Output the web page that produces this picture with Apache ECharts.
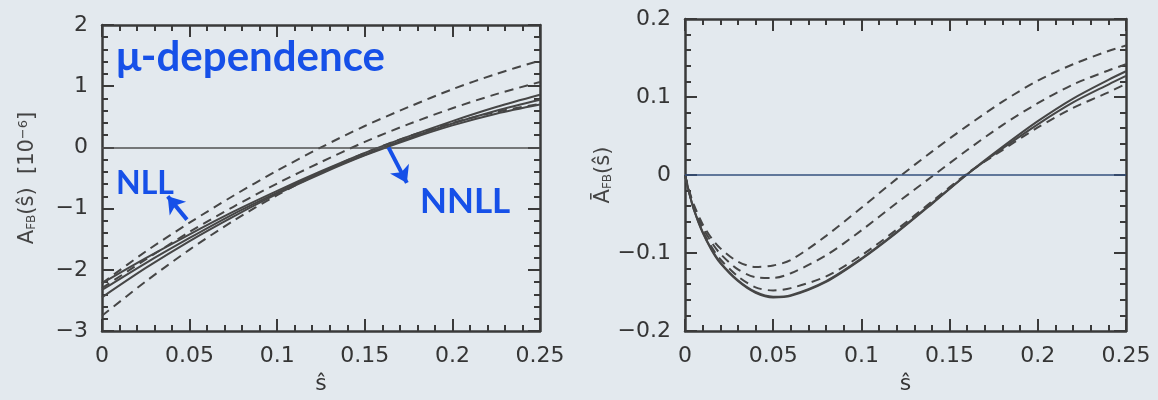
<!DOCTYPE html>
<html>
<head>
<meta charset="utf-8">
<script src="https://cdn.jsdelivr.net/npm/echarts@6/dist/echarts.min.js"></script>
<style>
  html, body { margin: 0; padding: 0; background: #e3e9ee; }
  #chart { width: 1158px; height: 400px; }
</style>
</head>
<body>
<div id="chart"></div>
<script>
// ---------- Left panel: A_FB(s) [10^-6] ----------
const xLeft = [0, 0.025, 0.05, 0.075, 0.1, 0.125, 0.15, 0.175, 0.2, 0.225, 0.25];
const leftSolidTop = [-2.22, -1.81, -1.42, -1.05, -0.71, -0.39, -0.09, 0.18, 0.43, 0.66, 0.86];
const leftSolidMid = [-2.33, -1.89, -1.48, -1.09, -0.74, -0.41, -0.12, 0.15, 0.39, 0.60, 0.78];
const leftSolidLow = [-2.45, -1.97, -1.53, -1.13, -0.76, -0.43, -0.13, 0.13, 0.36, 0.55, 0.70];
const leftDashUpper = [-2.22, -1.70, -1.23, -0.79, -0.38, 0.00, 0.35, 0.66, 0.95, 1.20, 1.42];
const leftDashMiddle = [-2.30, -1.83, -1.38, -0.97, -0.59, -0.24, 0.09, 0.38, 0.64, 0.87, 1.07];
const leftDashLower = [-2.75, -2.19, -1.67, -1.20, -0.78, -0.41, -0.09, 0.18, 0.40, 0.58, 0.71];
const leftYTicks = [-3, -2, -1, 0, 1, 2];

// ---------- Right panel: normalized A_FB(s) ----------
const xRight = [0, 0.0025, 0.005, 0.01, 0.015, 0.02, 0.03, 0.04, 0.05, 0.06, 0.08, 0.1, 0.12, 0.14, 0.16, 0.18, 0.2, 0.22, 0.24, 0.25];
const rightSolidA = [0, -0.024, -0.044, -0.074, -0.096, -0.113, -0.136, -0.151, -0.157, -0.155, -0.137, -0.108, -0.074, -0.037, 0.001, 0.036, 0.069, 0.098, 0.122, 0.133];
const rightSolidB = [0, -0.024, -0.044, -0.073, -0.095, -0.112, -0.135, -0.150, -0.156, -0.154, -0.136, -0.107, -0.073, -0.036, 0.001, 0.034, 0.065, 0.093, 0.116, 0.127];
const rightDashUpper = [0, -0.021, -0.038, -0.063, -0.081, -0.094, -0.111, -0.118, -0.116, -0.109, -0.078, -0.042, -0.005, 0.030, 0.063, 0.094, 0.121, 0.142, 0.159, 0.166];
const rightDashMiddle = [0, -0.022, -0.040, -0.067, -0.086, -0.101, -0.121, -0.131, -0.132, -0.126, -0.103, -0.071, -0.036, -0.002, 0.032, 0.064, 0.092, 0.116, 0.134, 0.142];
const rightDashLower = [0, -0.023, -0.042, -0.071, -0.092, -0.108, -0.130, -0.144, -0.148, -0.145, -0.130, -0.103, -0.070, -0.034, 0.002, 0.032, 0.061, 0.086, 0.106, 0.117];

const xTickLabels = ['0', '0.05', '0.1', '0.15', '0.2', '0.25'];

const FONT = 'DejaVu Sans';
const INK = '#353535';
const LINE = '#464646';
const BLUE = '#1650e8';

function pairs(xs, ys) { return xs.map((x, i) => [x, ys[i]]); }
const minus = v => String(v).replace('-', '\u2212');

function axisCommon(extra) {
  return Object.assign({
    type: 'value',
    axisLine: { show: true, onZero: false, lineStyle: { color: '#3a3a3a', width: 2.5 } },
    axisTick: { show: true, inside: true, length: 12, lineStyle: { color: '#3a3a3a', width: 2 } },
    minorTick: { show: true, splitNumber: 5, length: 6, lineStyle: { color: '#3a3a3a', width: 2 } },
    splitLine: { show: false },
    minorSplitLine: { show: false },
    axisLabel: { show: true, color: INK, fontFamily: FONT, fontSize: 22, margin: 14, formatter: minus }
  }, extra);
}

const richName = {
  a: { fontSize: 21, fontFamily: FONT, color: '#444', lineHeight: 21, verticalAlign: 'middle' },
  s: { fontSize: 12, fontFamily: FONT, color: '#444', lineHeight: 12, verticalAlign: 'bottom' },
  p: { fontSize: 13, fontFamily: FONT, color: '#444', lineHeight: 13, verticalAlign: 'top' }
};

function line(name, xs, ys, xi, yi, dashed, extra) {
  return Object.assign({
    name, type: 'line', xAxisIndex: xi, yAxisIndex: yi,
    data: pairs(xs, ys), showSymbol: false, symbol: 'none',
    smooth: 0.3, silent: true,
    lineStyle: { color: LINE, width: 2, type: dashed ? [9, 6] : 'solid' },
    z: dashed ? 3 : 4
  }, extra || {});
}

const chart = echarts.init(document.getElementById('chart'), null, { renderer: 'canvas' });

const option = {
  backgroundColor: '#e3e9ee',
  animation: false,
  grid: [
    { left: 102, top: 25, width: 438, height: 318 },
    { left: 685, top: 19, width: 441, height: 319 }
  ],
  xAxis: [
    axisCommon({ gridIndex: 0, position: 'bottom', min: 0, max: 0.25, interval: 0.05,
      name: 'ŝ', nameLocation: 'middle', nameGap: 42,
      nameTextStyle: { fontFamily: FONT, fontSize: 22, color: INK },
      axisLabel: { color: INK, fontFamily: FONT, fontSize: 22, margin: 14,
        formatter: v => xTickLabels[Math.round(v / 0.05)] } }),
    axisCommon({ gridIndex: 0, position: 'top', min: 0, max: 0.25, interval: 0.05, axisLabel: { show: false } }),
    axisCommon({ gridIndex: 1, position: 'bottom', min: 0, max: 0.25, interval: 0.05,
      name: 'ŝ', nameLocation: 'middle', nameGap: 42,
      nameTextStyle: { fontFamily: FONT, fontSize: 22, color: INK },
      axisLabel: { color: INK, fontFamily: FONT, fontSize: 22, margin: 14,
        formatter: v => xTickLabels[Math.round(v / 0.05)] } }),
    axisCommon({ gridIndex: 1, position: 'top', min: 0, max: 0.25, interval: 0.05, axisLabel: { show: false } })
  ],
  yAxis: [
    axisCommon({ gridIndex: 0, position: 'left', min: leftYTicks[0], max: leftYTicks[leftYTicks.length - 1], interval: 1,
      name: '{a|A}{s|FB}{a|(ŝ)  [10}{p|\u22126}{a|]}', nameLocation: 'middle', nameGap: 64, nameRotate: 90,
      nameTextStyle: { rich: richName } }),
    axisCommon({ gridIndex: 0, position: 'right', min: -3, max: 2, interval: 1, axisLabel: { show: false } }),
    axisCommon({ gridIndex: 1, position: 'left', min: -0.2, max: 0.2, interval: 0.1,
      name: '{a|\u0100}{s|FB}{a|(ŝ)}', nameLocation: 'middle', nameGap: 66, nameRotate: 90,
      nameTextStyle: { rich: richName } }),
    axisCommon({ gridIndex: 1, position: 'right', min: -0.2, max: 0.2, interval: 0.1, axisLabel: { show: false } })
  ],
  series: [
    line('dash-upper-L', xLeft, leftDashUpper, 0, 0, true, {
      markLine: { silent: true, symbol: ['none', 'none'], label: { show: false },
        lineStyle: { color: '#505050', width: 1.5, type: 'solid' },
        data: [{ yAxis: 0 }] }
    }),
    line('dash-middle-L', xLeft, leftDashMiddle, 0, 0, true),
    line('dash-lower-L', xLeft, leftDashLower, 0, 0, true),
    line('solid-top-L', xLeft, leftSolidTop, 0, 0, false),
    line('solid-mid-L', xLeft, leftSolidMid, 0, 0, false),
    line('solid-low-L', xLeft, leftSolidLow, 0, 0, false, {
      markLine: { silent: true, symbol: ['none', 'arrow'], symbolSize: 16, label: { show: false },
        lineStyle: { color: BLUE, width: 4, type: 'solid' },
        data: [
          [{ coord: [0.0485, -1.18] }, { coord: [0.0375, -0.80] }],
          [{ coord: [0.1635, 0.0] }, { coord: [0.174, -0.58] }]
        ] }
    }),
    line('dash-upper-R', xRight, rightDashUpper, 2, 2, true, {
      markLine: { silent: true, symbol: ['none', 'none'], label: { show: false },
        lineStyle: { color: '#34507e', width: 1.5, type: 'solid' },
        data: [{ yAxis: 0 }] }
    }),
    line('dash-middle-R', xRight, rightDashMiddle, 2, 2, true),
    line('dash-lower-R', xRight, rightDashLower, 2, 2, true),
    line('solid-A-R', xRight, rightSolidA, 2, 2, false),
    line('solid-B-R', xRight, rightSolidB, 2, 2, false)
  ],
  graphic: [
    { type: 'text', left: 116, top: 36, silent: true,
      style: { text: 'μ-dependence', fill: BLUE, fontFamily: 'Lato', fontWeight: 'bold', fontSize: 42 } },
    { type: 'text', left: 116, top: 168, silent: true,
      style: { text: 'NLL', fill: BLUE, fontFamily: 'Lato', fontWeight: 'bold', fontSize: 32 } },
    { type: 'text', left: 420, top: 184, silent: true,
      style: { text: 'NNLL', fill: BLUE, fontFamily: 'Lato', fontWeight: 'bold', fontSize: 35 } }
  ]
};

chart.setOption(option);
</script>
</body>
</html>
